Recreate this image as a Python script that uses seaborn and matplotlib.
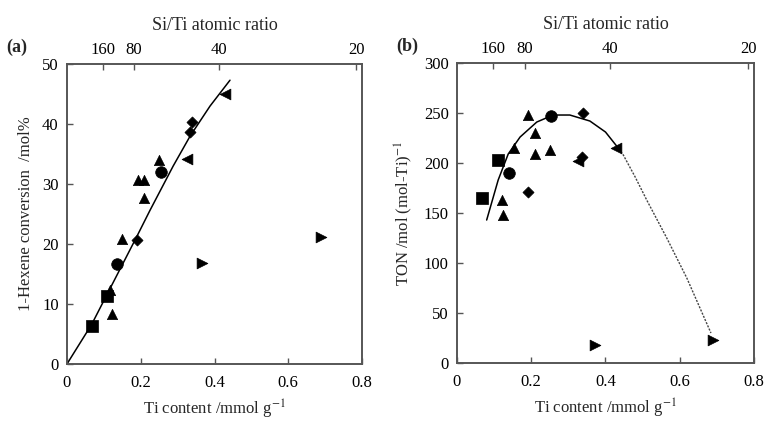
import matplotlib
matplotlib.use("Agg")
import matplotlib.pyplot as plt
import seaborn as sns
import pandas as pd

# --- data ---
ti_ticks = [0, 0.2, 0.4, 0.6, 0.8]
ti_labels = ["0", "0.2", "0.4", "0.6", "0.8"]
ratio_labels = ["160", "80", "40", "20"]
ratio_tick_pos = [0.097, 0.182, 0.411, 0.784]   # Ti content where each Si/Ti label sits

markers = {"square": "s", "circle": "o", "tri_up": "^",
           "diamond": "D", "tri_left": "<", "tri_right": ">"}
marker_sizes = {"square": 70, "circle": 70, "tri_up": 55,
                "diamond": 32, "tri_left": 60, "tri_right": 60}

# (a) 1-hexene conversion
conv_x = {
    "square": [0.067, 0.108],
    "circle": [0.135, 0.254],
    "tri_up": [0.118, 0.121, 0.148, 0.193, 0.209, 0.209, 0.250],
    "diamond": [0.189, 0.334, 0.338],
    "tri_left": [0.325, 0.428],
    "tri_right": [0.365, 0.688],
}
conv_y = {
    "square": [6.3, 11.3],
    "circle": [16.7, 32.0],
    "tri_up": [12.3, 8.4, 20.8, 30.6, 30.6, 27.6, 34.0],
    "diamond": [20.7, 38.7, 40.4],
    "tri_left": [34.2, 45.0],
    "tri_right": [16.9, 21.1],
}
conv_fit_x = [0, 0.067, 0.117, 0.189, 0.225, 0.288, 0.334, 0.388, 0.442]
conv_fit_y = [0, 6.6, 12.6, 21.2, 25.6, 33.0, 38.0, 43.0, 47.3]

# (b) TON
ton_x = {
    "square": [0.068, 0.110],
    "circle": [0.140, 0.253],
    "tri_up": [0.121, 0.125, 0.154, 0.192, 0.209, 0.211, 0.251],
    "diamond": [0.192, 0.336, 0.340],
    "tri_left": [0.327, 0.428],
    "tri_right": [0.371, 0.690],
}
ton_y = {
    "square": [165, 203],
    "circle": [190, 247],
    "tri_up": [163, 148, 215, 248, 230, 209, 213],
    "diamond": [171, 206, 250],
    "tri_left": [202, 215],
    "tri_right": [18, 23],
}
ton_fit_x = [0.080, 0.111, 0.138, 0.170, 0.215, 0.259, 0.304, 0.358, 0.400, 0.430]
ton_fit_y = [143, 183, 209, 226, 241, 248, 248, 242, 231, 217]
ton_ext_x = [0.430, 0.448, 0.480, 0.511, 0.565, 0.619, 0.684]
ton_ext_y = [217, 208, 186, 163, 125, 85, 30]


def to_frame(xs, ys):
    rows = []
    for k in xs:
        for x, y in zip(xs[k], ys[k]):
            rows.append({"x": x, "y": y, "kind": k})
    return pd.DataFrame(rows)


sns.set_theme(style="ticks")
plt.rcParams["font.family"] = ["Liberation Serif", "DejaVu Serif"]
plt.rcParams["mathtext.fontset"] = "stix"
plt.rcParams["axes.edgecolor"] = "#555555"
plt.rcParams["xtick.color"] = "#555555"
plt.rcParams["ytick.color"] = "#555555"
plt.rcParams["xtick.labelcolor"] = "black"
plt.rcParams["ytick.labelcolor"] = "black"

fig = plt.figure(figsize=(7.68, 4.23), dpi=100)
ax_a = fig.add_axes([0.0872, 0.1395, 0.3842, 0.7092])
ax_b = fig.add_axes([0.5950, 0.1418, 0.3868, 0.7092])


def draw_panel(ax, df, ylim, yticks, ylabel, tag):
    for k, sub in df.groupby("kind"):
        sns.scatterplot(data=sub, x="x", y="y", marker=markers[k],
                        s=marker_sizes[k], color="black", edgecolor="black",
                        linewidth=0.5, legend=False, ax=ax, zorder=3)
    ax.set_xlim(0, 0.8)
    ax.set_ylim(*ylim)
    ax.set_xticks(ti_ticks)
    ax.set_xticklabels(ti_labels)
    ax.set_yticks(yticks)
    ax.tick_params(axis="x", direction="in", length=4, width=1, labelsize=12, pad=8)
    ax.tick_params(axis="y", direction="in", length=4, width=1, labelsize=12, pad=6)
    ax.set_xlabel("Ti content /mmol g$^{-1}$", fontsize=12, labelpad=5)
    ax.set_ylabel(ylabel, fontsize=12, labelpad=6)
    for sp in ax.spines.values():
        sp.set_linewidth(1.1)

    top = ax.twiny()
    top.set_xlim(0, 0.8)
    top.set_xticks(ratio_tick_pos)
    top.set_xticklabels(ratio_labels)
    top.tick_params(direction="in", length=4, width=1, labelsize=12, pad=4)
    top.set_xlabel("Si/Ti atomic ratio", fontsize=13, labelpad=9)
    ax.text(-0.205, 1.055, tag, transform=ax.transAxes, fontsize=13,
            fontweight="bold", ha="left", va="center")


draw_panel(ax_a, to_frame(conv_x, conv_y), (0, 50), range(0, 51, 10),
           "1-Hexene conversion  /mol%", "(a)")
sns.lineplot(x=conv_fit_x, y=conv_fit_y, color="black", linewidth=1.1,
             sort=False, ax=ax_a)

draw_panel(ax_b, to_frame(ton_x, ton_y), (0, 300), range(0, 301, 50),
           "TON /mol (mol-Ti)$^{-1}$", "(b)")
sns.lineplot(x=ton_fit_x, y=ton_fit_y, color="black", linewidth=1.1,
             sort=False, ax=ax_b)
sns.lineplot(x=ton_ext_x, y=ton_ext_y, color="#444444", linewidth=1.0,
             linestyle=(0, (1.5, 1)), sort=False, ax=ax_b)

fig.savefig("out.png", dpi=100)
